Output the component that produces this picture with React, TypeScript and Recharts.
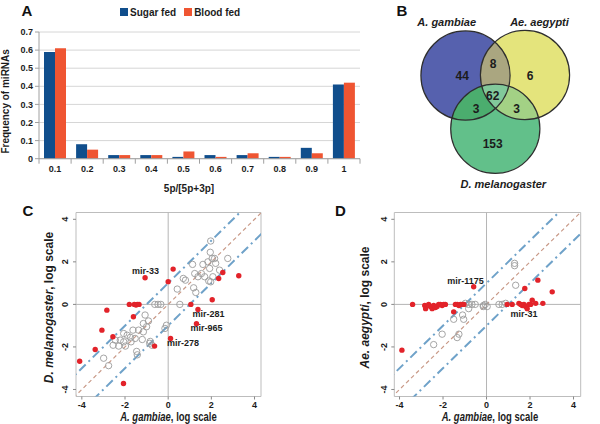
import React from 'react';
import {
  BarChart, Bar, XAxis, YAxis, CartesianGrid, Legend, Label,
  ScatterChart, Scatter, ReferenceLine, ReferenceArea,
} from 'recharts';

const FONT = '"Liberation Sans", Arial, Helvetica, sans-serif';
const TEXT = '#1c1c1c';

// ---------- Panel A data ----------
const binLabels = ['0.1', '0.2', '0.3', '0.4', '0.5', '0.6', '0.7', '0.8', '0.9', '1'];
const sugarFed = [0.59, 0.08, 0.02, 0.02, 0.01, 0.02, 0.02, 0.01, 0.06, 0.41];
const bloodFed = [0.61, 0.05, 0.02, 0.02, 0.04, 0.01, 0.03, 0.01, 0.03, 0.42];
const freqTicks = [0, 0.1, 0.2, 0.3, 0.4, 0.5, 0.6, 0.7];
const seriesNames = ['Sugar fed', 'Blood fed'];
const seriesColors = ['#104e8c', '#ef5532'];

// ---------- Panel B data ----------
const vennSets = [
  { name: 'A. gambiae', x: 85.5, y: 75.5, fill: '#5661ae' },
  { name: 'Ae. aegypti', x: 145, y: 75, fill: '#e4e47c' },
  { name: 'D. melanogaster', x: 115.3, y: 128.8, fill: '#62c08a' },
];
const VENN_R = 44.6;
const vennOverlaps = [
  { id: 'ga', base: 1, clips: [0], fill: '#aaa680' },
  { id: 'gd', base: 2, clips: [0], fill: '#4bad6e' },
  { id: 'ad', base: 2, clips: [1], fill: '#a3d185' },
  { id: 'gad', base: 2, clips: [0, 1], fill: '#82c99b' },
];
const vennCounts = [
  { label: '44', x: 82.3, y: 76 },
  { label: '8', x: 113, y: 64.3 },
  { label: '6', x: 150, y: 76 },
  { label: '62', x: 112.7, y: 96.3 },
  { label: '3', x: 96, y: 109.3 },
  { label: '3', x: 136.7, y: 109.3 },
  { label: '153', x: 112.7, y: 144 },
];
const vennNames = [
  { label: 'A. gambiae', x: 66.7, y: 22 },
  { label: 'Ae. aegypti', x: 159.5, y: 22 },
  { label: 'D. melanogaster', x: 123.3, y: 184.3 },
];

// ---------- Panel C data ----------
const logTicks = [-4, -2, 0, 2, 4];
const diagonalOffsets = [-1, 0, 1];
const cSignificant: number[][] = [
  [0.23, 1.66], [-1.07, 1.25], [0.0, 1.07], [2.53, 1.5], [2.34, 1.22], [3.27, 1.35],
  [2.04, 0.22], [1.05, 0.0], [1.38, -0.24], [1.31, -0.91], [0.11, -1.6], [-0.63, -1.96],
  [-1.8, 0.0], [-1.57, 0.0], [-1.49, -0.03], [-1.43, 0.0], [-1.35, 0.0], [-1.61, -0.58],
  [-2.84, -0.27], [-3.07, -1.21], [-2.56, -1.52], [-3.38, -2.12], [-4.1, -2.67], [-2.07, -3.72],
];
const cOther: number[][] = [
  [1.97, 2.98], [1.95, 2.45], [2.04, 2.16], [2.15, 2.16], [1.84, 2.0], [2.2, 1.93], [2.76, 2.16],
  [1.13, 1.88], [1.61, 1.88], [2.38, 1.61], [1.92, 1.69], [1.23, 1.45], [1.54, 1.45], [1.38, 1.3],
  [1.69, 1.3], [2.07, 1.3], [1.97, 1.06], [0.7, 1.22], [0.8, 1.14], [0.42, 0.72], [1.18, 0.78],
  [1.28, 0.56], [1.88, 1.1],
  [-0.62, 0], [-0.47, 0], [-0.34, 0], [0.54, 0], [-0.08, -0.98], [-0.15, -1.13],
  [-1.07, -0.5], [-0.91, -0.78], [-1.15, -0.9], [-1.0, -1.05], [-1.63, -1.21], [-1.37, -1.21],
  [-1.15, -1.29], [-2.06, -1.37], [-1.9, -1.45], [-1.72, -1.76], [-2.22, -1.68], [-2.45, -1.68],
  [-2.06, -1.76], [-2.29, -1.96], [-2.55, -1.92], [-1.98, -1.96], [-0.83, -1.74], [-0.75, -1.92],
  [-0.86, -1.83], [-1.46, -2.21], [-1.43, -2.37], [-2.99, -2.53], [-2.76, -2.88], [-1.2, -1.65],
  [-1.75, -1.55], [-1.53, -1.6],
];
const cNotes = [
  { label: 'mir-33', x: -1.05, y: 1.57 },
  { label: 'mir-281', x: 1.87, y: -0.46 },
  { label: 'mir-965', x: 1.78, y: -1.13 },
  { label: 'mir-278', x: 0.69, y: -1.81 },
];

// ---------- Panel D data ----------
const dSignificant: number[][] = [
  [-3.89, -2.15], [-0.59, 0.83], [1.76, 0.75], [2.36, 1.14], [3.02, 0.59], [-1.51, -0.35],
  [-3.4, 0], [-2.84, -0.05], [-2.8, -0.2], [-2.66, 0], [-2.58, -0.1], [-2.5, -0.2], [-2.43, -0.05],
  [-2.35, -0.15], [-2.27, -0.1], [-2.2, 0], [-2.12, 0], [-2.04, -0.05], [-1.97, 0], [-1.89, 0],
  [-1.43, 0], [-1.35, 0], [-1.27, -0.05], [-1.2, 0], [-1.12, 0], [-1.04, 0],
  [0.95, 0], [1.18, 0], [1.49, 0.05], [1.57, 0], [1.64, -0.05], [1.72, 0], [1.8, -0.1],
  [1.87, -0.2], [1.95, 0], [2.03, 0], [2.1, 0.2], [2.26, 0.05], [2.59, 0.05],
];
const dOther: number[][] = [
  [1.29, 1.93], [1.29, 1.82], [1.34, 0.9], [-0.97, 0.05], [-0.82, 0], [-0.67, 0], [-0.52, 0],
  [-0.14, -0.05], [-0.06, 0], [0.03, -0.1], [0.57, 0], [0.72, 0], [0.88, 0.05], [-0.82, -0.2],
  [-1.51, -0.7], [-1.1, -0.5], [-1.05, -0.7], [-2.04, -1.4], [-1.27, -1.4], [-1.35, -1.56],
  [-2.43, -1.89], [-0.15, -0.1],
];
const dNotes = [
  { label: 'mir-1175', x: -0.97, y: 1.11 },
  { label: 'mir-31', x: 1.72, y: -0.46 },
];

const toPoints = (arr: number[][]) => arr.map(([x, y]) => ({ x, y }));
const barData = binLabels.map((bin, i) => ({ bin, sugar: sugarFed[i], blood: bloodFed[i] }));

// ---------- Panel A pieces ----------
const A_WIDTH = 370;
const A_MARGIN = { top: 4, right: 10, left: 0, bottom: 0 };
const A_YAXIS_W = 39;
const A_PLOT_W = A_WIDTH - A_MARGIN.left - A_MARGIN.right - A_YAXIS_W;

const LegendA = () => (
  <div style={{ height: 28, display: 'flex', alignItems: 'flex-start', paddingLeft: 120, fontFamily: FONT, fontSize: 10, fontWeight: 'bold', color: TEXT }}>
    {seriesNames.map((n, i) => (
      <div key={n} style={{ display: 'flex', alignItems: 'center', height: 16, marginRight: 8 }}>
        <span style={{ display: 'inline-block', width: 8, height: 8, background: seriesColors[i], marginRight: 2 }} />
        <span>{n}</span>
      </div>
    ))}
  </div>
);

const BinTick = (props: any) => {
  const { x, y, payload, index } = props;
  const axisY = y - 8;
  const half = A_PLOT_W / binLabels.length / 2;
  return (
    <g>
      <line x1={x - half} x2={x - half} y1={axisY} y2={axisY + 5} stroke="#a0a0a0" />
      {index === binLabels.length - 1 && (
        <line x1={x + half} x2={x + half} y1={axisY} y2={axisY + 5} stroke="#a0a0a0" />
      )}
      <text x={x} y={axisY + 10.5} textAnchor="middle" dominantBaseline="central" fontFamily={FONT} fontSize={9} fontWeight="bold" fill={TEXT}>
        {payload.value}
      </text>
    </g>
  );
};

function PanelA() {
  return (
    <div style={{ position: 'absolute', left: 0, top: 0 }}>
      <BarChart width={A_WIDTH} height={200} data={barData} margin={A_MARGIN} barGap={0} barSize={11}>
        <Legend verticalAlign="top" align="left" height={28} content={() => <LegendA />} />
        <CartesianGrid vertical={false} stroke="#d6d6d6" yAxisId="l" />
        <XAxis dataKey="bin" height={41.3} tickLine={false} tickSize={6} tickMargin={2} axisLine={{ stroke: '#a0a0a0' }} tick={<BinTick />} interval={0}>
          <Label content={(p: any) => {
            const vb = p.viewBox;
            return (
              <text x={vb.x + vb.width / 2 - 10.5} y={vb.y + 29.3} textAnchor="middle" dominantBaseline="central" fontFamily={FONT} fontSize={10} fontWeight="bold" fill={TEXT}>5p/[5p+3p]</text>
            );
          }} />
        </XAxis>
        <YAxis yAxisId="l" width={A_YAXIS_W} domain={[0, 0.7]} ticks={freqTicks} interval={0}
          tickFormatter={(v: number) => (v === 0 ? '0' : v.toFixed(1))}
          tick={{ fontSize: 9, fontWeight: 'bold', fill: TEXT, fontFamily: FONT }}
          tickSize={4} tickMargin={2} tickLine={{ stroke: '#a0a0a0' }} axisLine={{ stroke: '#a0a0a0' }}>
          <Label content={(p: any) => {
            const vb = p.viewBox;
            const cx = vb.x + 6;
            const cy = vb.y + vb.height / 2 + 6;
            return (
              <text x={cx} y={cy} transform={`rotate(-90, ${cx}, ${cy})`} textAnchor="middle" dominantBaseline="central" fontFamily={FONT} fontSize={10} fontWeight="bold" fill={TEXT}>Frequency of miRNAs</text>
            );
          }} />
        </YAxis>
        <YAxis yAxisId="r" orientation="right" width={0} domain={[0, 0.7]} tick={false} tickLine={false} axisLine={{ stroke: '#d0d0d0' }} />
        <Bar yAxisId="l" dataKey="sugar" name={seriesNames[0]} fill={seriesColors[0]} isAnimationActive={false} />
        <Bar yAxisId="l" dataKey="blood" name={seriesNames[1]} fill={seriesColors[1]} isAnimationActive={false} />
      </BarChart>
    </div>
  );
}

// ---------- Panel B pieces ----------
const VennCircle = (props: any) => (
  <circle cx={props.cx} cy={props.cy} r={VENN_R} fill={props.payload.fill} />
);
const VennOutline = (props: any) => (
  <circle cx={props.cx} cy={props.cy} r={VENN_R} fill="none" stroke="#2e2e2e" strokeWidth={1.2} />
);
const VennOverlap = (props: any) => {
  const { cx, cy, payload } = props;
  const base = vennSets[payload.base];
  const defs = payload.clips.map((ci: number, k: number) => {
    const c = vennSets[ci];
    return (
      <clipPath key={k} id={`venn-${payload.id}-${k}`}>
        <circle cx={cx + (c.x - base.x)} cy={cy + (c.y - base.y)} r={VENN_R} />
      </clipPath>
    );
  });
  let node: any = <circle cx={cx} cy={cy} r={VENN_R} fill={payload.fill} />;
  payload.clips.forEach((_: number, k: number) => {
    node = <g clipPath={`url(#venn-${payload.id}-${k})`}>{node}</g>;
  });
  return (
    <g>
      <defs>{defs}</defs>
      {node}
    </g>
  );
};
const VennCount = (props: any) => (
  <text x={props.cx} y={props.cy} textAnchor="middle" dominantBaseline="central" fontFamily={FONT} fontSize={12} fontWeight="bold" fill={TEXT}>{props.payload.label}</text>
);
const VennName = (props: any) => (
  <text x={props.cx} y={props.cy} textAnchor="middle" dominantBaseline="central" fontFamily={FONT} fontSize={11} fontWeight="bold" fontStyle="italic" fill={TEXT}>{props.payload.label}</text>
);

function PanelB() {
  const overlapData = vennOverlaps.map((o) => ({ ...o, x: vennSets[o.base].x, y: vennSets[o.base].y }));
  return (
    <div style={{ position: 'absolute', left: 380, top: 0 }}>
      <ScatterChart width={220} height={200} margin={{ top: 0, right: 0, bottom: 0, left: 0 }}>
        <XAxis type="number" dataKey="x" domain={[0, 220]} hide allowDataOverflow />
        <YAxis type="number" dataKey="y" domain={[0, 200]} reversed hide allowDataOverflow />
        <Scatter data={vennSets} shape={<VennCircle />} isAnimationActive={false} />
        <Scatter data={overlapData} shape={<VennOverlap />} isAnimationActive={false} />
        <Scatter data={vennSets} shape={<VennOutline />} isAnimationActive={false} />
        <Scatter data={vennCounts} shape={<VennCount />} isAnimationActive={false} />
        <Scatter data={vennNames} shape={<VennName />} isAnimationActive={false} />
      </ScatterChart>
    </div>
  );
}

// ---------- Panels C & D ----------
const LOG_Y_DOMAIN = [-4.33, 4.32];

const RedDot = (props: any) => <circle cx={props.cx} cy={props.cy} r={2.7} fill="#e2232a" />;
const OpenDot = (props: any) => <circle cx={props.cx} cy={props.cy} r={3.2} fill="none" stroke="#9b9b9b" strokeWidth={0.9} />;
const NoteText = (props: any) => (
  <text x={props.cx} y={props.cy} textAnchor="middle" dominantBaseline="central" fontFamily={FONT} fontSize={9} fontWeight="bold" fill={TEXT}>{props.payload.label}</text>
);
const RotTick = (props: any) => {
  const { x, y, payload } = props;
  const tx = x - 5.5;
  return (
    <text x={tx} y={y} transform={`rotate(-90, ${tx}, ${y})`} textAnchor="middle" dominantBaseline="central" fontFamily={FONT} fontSize={9} fontWeight="bold" fill={TEXT}>{payload.value}</text>
  );
};

function ScatterPanel(props: any) {
  const { left, yAxisWidth, rightMargin, xDomain, sig, other, notes, yItalic, yRest, yLabelX, xLabelShift } = props;
  return (
    <div style={{ position: 'absolute', left, top: 200 }}>
      <ScatterChart width={300} height={224} margin={{ top: 12.5, right: rightMargin, bottom: 0, left: 0 }}>
        <XAxis type="number" dataKey="x" domain={xDomain} ticks={logTicks} interval={0} allowDataOverflow height={27.5}
          axisLine={false} tickLine={{ stroke: '#888' }} tickSize={3} tickMargin={2}
          tick={{ fontSize: 9, fontWeight: 'bold', fill: TEXT, fontFamily: FONT }}>
          <Label content={(p: any) => {
            const vb = p.viewBox;
            const cx = vb.x + vb.width / 2 + xLabelShift;
            const cy = vb.y + 19.5;
            return (
              <g transform={`translate(${cx}, ${cy}) scale(0.76, 1)`}>
                <text x={0} y={0} textAnchor="middle" dominantBaseline="central" fontFamily={FONT} fontSize={12.5} fontWeight="bold" fill={TEXT}>
                  <tspan fontStyle="italic">A. gambiae</tspan><tspan>, log scale</tspan>
                </text>
              </g>
            );
          }} />
        </XAxis>
        <YAxis type="number" dataKey="y" domain={LOG_Y_DOMAIN} ticks={logTicks} interval={0} allowDataOverflow width={yAxisWidth}
          axisLine={false} tickLine={{ stroke: '#888' }} tickSize={3} tickMargin={2} tick={<RotTick />}>
          <Label content={(p: any) => {
            const vb = p.viewBox;
            const cx = vb.x + yLabelX;
            const cy = vb.y + vb.height / 2 + 3;
            return (
              <text x={cx} y={cy} transform={`rotate(-90, ${cx}, ${cy})`} textAnchor="middle" dominantBaseline="central" fontFamily={FONT} fontSize={12} fontWeight="bold" fill={TEXT}>
                <tspan fontStyle="italic">{yItalic}</tspan><tspan>{yRest}</tspan>
              </text>
            );
          }} />
        </YAxis>
        <ReferenceArea x1={xDomain[0]} x2={xDomain[1]} y1={LOG_Y_DOMAIN[0]} y2={LOG_Y_DOMAIN[1]} fill="none" stroke="#bdbdbd" strokeWidth={1} ifOverflow="visible" />
        <ReferenceLine x={0} stroke="#b5b5b5" strokeWidth={1} />
        <ReferenceLine y={0} stroke="#b5b5b5" strokeWidth={1} />
        {diagonalOffsets.map((off) => (
          <ReferenceLine key={off} ifOverflow="hidden"
            segment={[{ x: -6, y: -6 + off }, { x: 6, y: 6 + off }]}
            stroke={off === 0 ? '#c99a88' : '#6fa2c9'}
            strokeWidth={off === 0 ? 1.2 : 2}
            strokeDasharray={off === 0 ? '4 3' : '9 4 2 4'} />
        ))}
        <Scatter data={toPoints(other)} shape={<OpenDot />} isAnimationActive={false} />
        <Scatter data={toPoints(sig)} shape={<RedDot />} isAnimationActive={false} />
        <Scatter data={notes} shape={<NoteText />} isAnimationActive={false} />
      </ScatterChart>
    </div>
  );
}

const panelLetters = [
  { t: 'A', x: 21.5, y: 16 },
  { t: 'B', x: 396.5, y: 16 },
  { t: 'C', x: 22.5, y: 216 },
  { t: 'D', x: 335, y: 216 },
];

export default function App() {
  return (
    <div style={{ position: 'absolute', left: 0, top: 0, width: 600, height: 424, background: '#fff', overflow: 'hidden', fontFamily: FONT }}>
      <PanelA />
      <PanelB />
      <ScatterPanel left={0} yAxisWidth={76} rightMargin={39} xDomain={[-4.27, 4.3]}
        sig={cSignificant} other={cOther} notes={cNotes}
        yItalic="D. melanogaster" yRest=", log scale" yLabelX={49} xLabelShift={0} />
      <ScatterPanel left={300} yAxisWidth={94.3} rightMargin={19.3} xDomain={[-4.24, 4.33]}
        sig={dSignificant} other={dOther} notes={dNotes}
        yItalic="Ae. aegypti" yRest=", log scale" yLabelX={65} xLabelShift={2.5} />
      <svg width={600} height={424} style={{ position: 'absolute', left: 0, top: 0, pointerEvents: 'none' }}>
        {panelLetters.map((l) => (
          <text key={l.t} x={l.x} y={l.y} fontFamily={FONT} fontSize={15} fontWeight="bold" fill="#111">{l.t}</text>
        ))}
      </svg>
    </div>
  );
}
